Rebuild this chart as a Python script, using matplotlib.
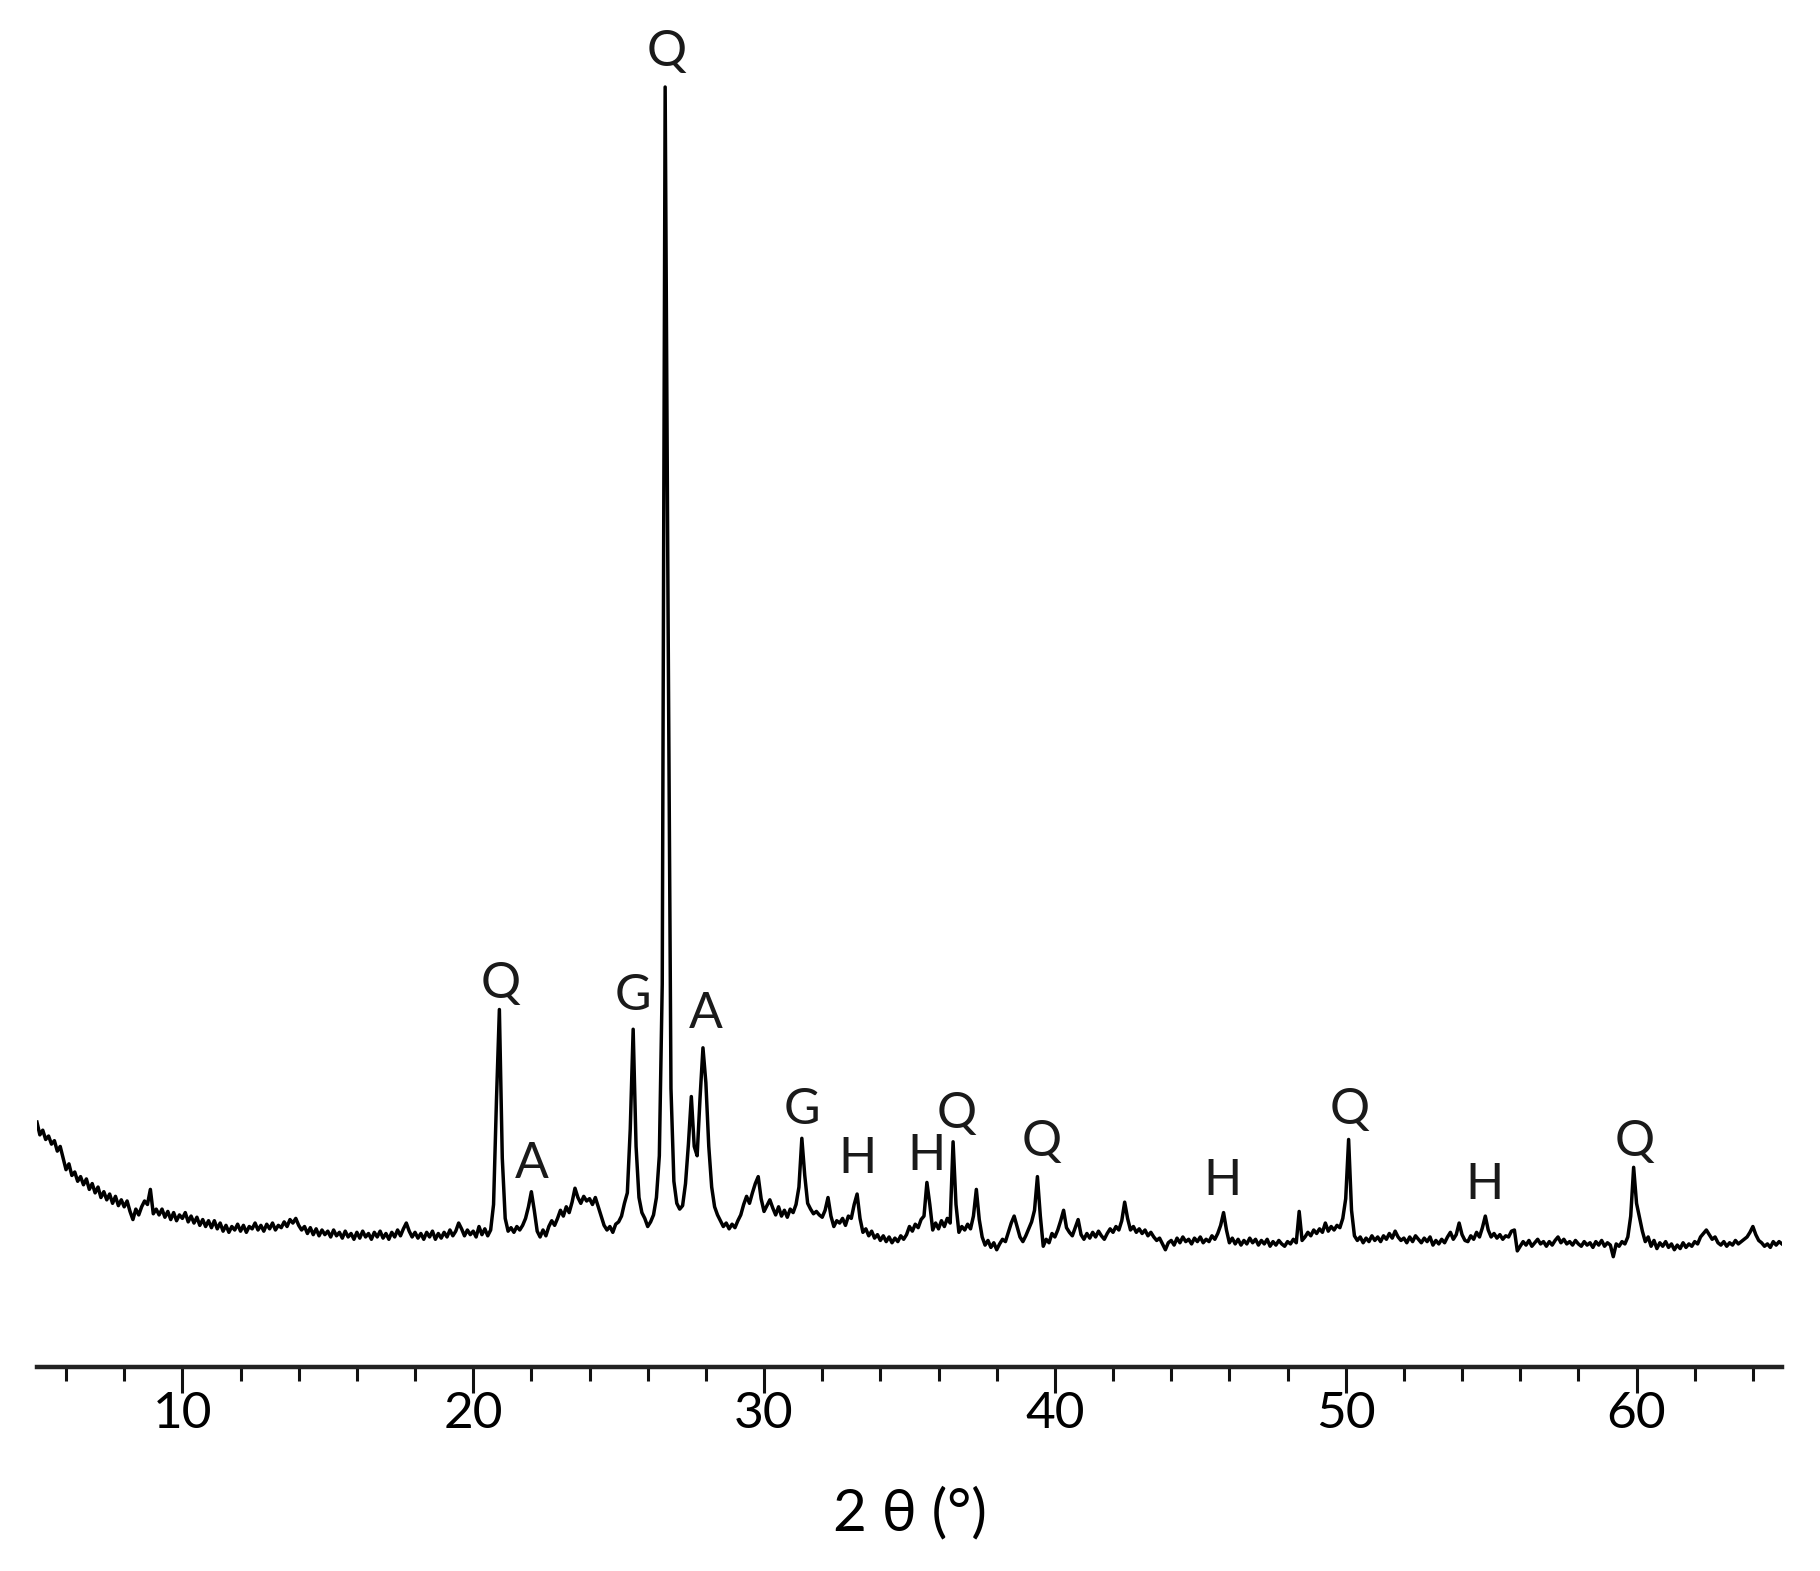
import numpy as np
import matplotlib
matplotlib.use("Agg")
import matplotlib.pyplot as plt
from matplotlib.ticker import MultipleLocator

plt.rcParams['font.family'] = ['Lato', 'DejaVu Sans']

# XRD scan, 2-theta from 5 to 65 deg in 0.1 deg steps (one row per degree)
intensity = [
    211, 200, 204, 196, 199, 192, 195, 186, 190, 180,  # 5
    170, 175, 165, 168, 160, 164, 157, 162, 153, 158,  # 6
    150, 155, 146, 151, 144, 149, 141, 147, 139, 144,  # 7
    138, 143, 134, 127, 136, 131, 138, 143, 140, 153,  # 8
    132, 136, 131, 136, 129, 134, 127, 133, 126, 131,  # 9
    128, 133, 125, 130, 124, 129, 122, 127, 121, 126,  # 10
    120, 126, 119, 124, 117, 122, 116, 121, 118, 123,  # 11
    117, 122, 116, 121, 119, 124, 118, 122, 117, 123,  # 12
    119, 124, 118, 122, 120, 125, 121, 127, 124, 128,  # 13
    122, 118, 121, 115, 120, 114, 119, 113, 118, 114,  # 14
    117, 112, 118, 113, 116, 111, 117, 112, 115, 110,  # 15
    116, 111, 117, 112, 115, 110, 116, 112, 117, 111,  # 16
    115, 110, 116, 112, 118, 113, 119, 124, 117, 112,  # 17
    116, 111, 115, 110, 116, 112, 117, 110, 115, 111,  # 18
    116, 112, 118, 113, 117, 124, 119, 113, 118, 114,  # 19
    117, 112, 121, 114, 119, 113, 118, 140, 230, 308,  # 20
    180, 128, 117, 120, 116, 121, 118, 122, 128, 138,  # 21
    151, 135, 117, 112, 118, 113, 121, 126, 122, 128,  # 22
    135, 130, 138, 133, 142, 154, 146, 141, 147, 143,  # 23
    145, 140, 146, 138, 130, 122, 118, 121, 116, 123,  # 24
    125, 130, 141, 150, 205, 291, 190, 146, 133, 128,  # 25
    121, 125, 131, 146, 182, 330, 1103, 650, 240, 160,  # 26
    141, 136, 139, 158, 192, 233, 190, 182, 232, 275,  # 27
    245, 190, 155, 138, 131, 126, 121, 124, 119, 123,  # 28
    120, 126, 131, 140, 147, 141, 150, 158, 164, 145,  # 29
    134, 139, 144, 137, 131, 138, 130, 135, 129, 136,  # 30
    133, 140, 155, 197, 165, 141, 136, 132, 134, 131,  # 31
    129, 135, 146, 130, 121, 126, 124, 128, 122, 130,  # 32
    128, 140, 149, 128, 116, 119, 113, 117, 111, 114,  # 33
    109, 113, 108, 112, 107, 111, 108, 113, 110, 114,  # 34
    121, 117, 123, 120, 127, 130, 159, 140, 118, 124,  # 35
    119, 126, 121, 128, 124, 194, 140, 116, 121, 118,  # 36
    123, 119, 130, 153, 127, 112, 105, 109, 103, 107,  # 37
    101, 106, 110, 108, 116, 124, 130, 121, 112, 108,  # 38
    113, 119, 125, 135, 164, 130, 104, 110, 107, 115,  # 39
    112, 118, 126, 135, 120, 116, 113, 120, 127, 114,  # 40
    110, 115, 111, 116, 112, 117, 113, 110, 115, 119,  # 41
    116, 121, 118, 126, 142, 128, 118, 121, 116, 119,  # 42
    115, 118, 113, 116, 112, 109, 111, 106, 101, 107,  # 43
    109, 105, 111, 107, 112, 108, 110, 106, 111, 108,  # 44
    112, 107, 110, 108, 113, 110, 115, 122, 133, 118,  # 45
    107, 111, 106, 110, 105, 109, 106, 111, 107, 110,  # 46
    105, 109, 106, 110, 104, 108, 105, 109, 106, 104,  # 47
    108, 106, 110, 107, 134, 109, 112, 116, 113, 118,  # 48
    115, 119, 116, 124, 117, 121, 118, 122, 120, 128,  # 49
    145, 196, 135, 113, 109, 112, 107, 111, 108, 113,  # 50
    109, 112, 108, 113, 110, 115, 111, 117, 112, 109,  # 51
    111, 107, 112, 108, 113, 110, 107, 111, 108, 112,  # 52
    105, 109, 106, 110, 107, 112, 116, 110, 114, 124,  # 53
    114, 109, 108, 113, 110, 116, 112, 120, 130, 118,  # 54
    112, 115, 111, 114, 110, 113, 112, 117, 118, 100,  # 55
    104, 108, 105, 109, 104, 107, 110, 106, 108, 104,  # 56
    108, 105, 109, 112, 107, 110, 106, 108, 105, 109,  # 57
    106, 104, 108, 105, 107, 103, 108, 105, 109, 104,  # 58
    107, 105, 95, 106, 104, 108, 106, 112, 130, 172,   # 59
    141, 129, 117, 108, 112, 104, 109, 102, 107, 104,  # 60
    108, 103, 106, 101, 105, 102, 107, 103, 106, 104,  # 61
    108, 106, 112, 115, 118, 114, 110, 112, 107, 105,  # 62
    108, 104, 107, 105, 109, 106, 108, 110, 112, 116,  # 63
    121, 114, 109, 107, 104, 106, 103, 108, 105, 108,  # 64
    106,
]
two_theta = 5 + 0.1 * np.arange(len(intensity))

# phase labels: Q quartz, A anorthite, G gehlenite, H hematite
peak_labels = ['Q', 'Q', 'A', 'G', 'A', 'G', 'H', 'H', 'Q', 'Q', 'H', 'Q', 'H', 'Q']
peak_x = [26.65, 20.96, 22.03, 25.50, 28.01, 31.31, 33.23, 35.58, 36.61, 39.56, 45.78, 50.12, 54.78, 59.92]
peak_y = [1133, 330, 175, 320, 304, 221, 179, 182, 218, 194, 160, 221, 157, 194]

fig = plt.figure(figsize=(18.2, 15.71), dpi=100)
ax = fig.add_axes([0.0203, 0.1299, 0.9588, 0.8701])

ax.plot(two_theta, intensity, color='black', linewidth=2.5)

for lab, px, py in zip(peak_labels, peak_x, peak_y):
    ax.text(px, py, lab, ha='center', va='center', fontsize=36, color='#1a1a1a')

ax.set_xlim(5, 65)
ax.set_ylim(0, 1178)
ax.set_yticks([])
for side in ['left', 'right', 'top']:
    ax.spines[side].set_visible(False)
ax.spines['bottom'].set_linewidth(3.2)
ax.spines['bottom'].set_color('#222222')

ax.xaxis.set_major_locator(MultipleLocator(10))
ax.xaxis.set_minor_locator(MultipleLocator(2))
ax.tick_params(axis='x', which='major', length=19, width=2.2, direction='out',
               labelsize=37, pad=-2, color='#111111')
ax.tick_params(axis='x', which='minor', length=10, width=2.2, direction='out', color='#111111')

ax.set_xlabel('2 θ (°)', fontsize=42, labelpad=36)

fig.savefig('out.png', dpi=100)
